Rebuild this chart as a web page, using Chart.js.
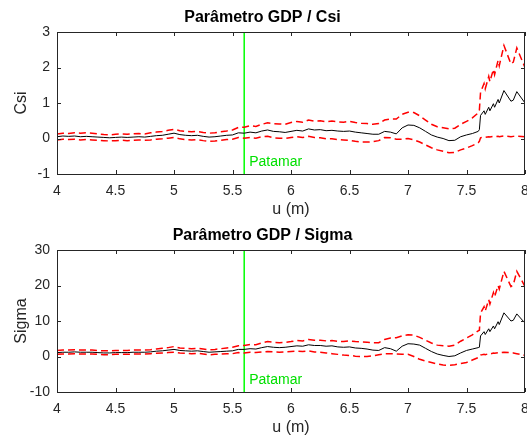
<!DOCTYPE html>
<html>
<head>
<meta charset="utf-8">
<script src="https://cdn.jsdelivr.net/npm/chart.js@4.4.1/dist/chart.umd.min.js"></script>
<style>
html,body{margin:0;padding:0;background:#fff;}
canvas{display:block;}
</style>
</head>
<body>
<canvas id="c1" width="527" height="218"></canvas>
<canvas id="c2" width="527" height="218"></canvas>
<script>
// x positions (u in m)
const uMain = [4.00,4.05,4.10,4.15,4.20,4.25,4.30,4.35,4.40,4.45,
  4.50,4.55,4.60,4.65,4.70,4.75,4.80,4.85,4.90,4.95,
  5.00,5.05,5.10,5.15,5.20,5.25,5.30,5.35,5.40,5.45,
  5.50,5.55,5.60,5.65,5.70,5.75,5.80,5.85,5.90,5.95,
  6.00,6.05,6.10,6.15,6.20,6.25,6.30,6.35,6.40,6.45,
  6.50,6.55,6.60,6.65,6.70,6.75,6.80,6.85,6.90,6.95,
  7.00,7.05,7.10,7.15,7.20,7.25,7.30,7.35,7.40,7.45,
  7.50,7.55,7.60];
const uTail = [7.61,7.62,7.65,7.66,7.69,7.70,7.73,7.74,7.77,7.78,7.82,7.88,7.90,7.93,8.00];
const uValues = uMain.concat(uTail);

// Csi (top)
const csiMean = [0.05,0.07,0.06,0.07,0.05,0.06,0.05,0.04,0.03,0.02,
  0.03,0.04,0.03,0.04,0.05,0.04,0.06,0.08,0.09,0.12,
  0.15,0.11,0.09,0.08,0.09,0.06,0.04,0.05,0.07,0.09,
  0.10,0.16,0.15,0.18,0.16,0.21,0.24,0.20,0.19,0.17,
  0.20,0.23,0.21,0.27,0.24,0.25,0.22,0.23,0.21,0.20,
  0.21,0.18,0.16,0.14,0.12,0.12,0.20,0.18,0.13,0.30,
  0.38,0.37,0.30,0.20,0.10,0.04,0.00,-0.06,-0.05,0.05,
  0.10,0.14,0.20,
  0.25,0.65,0.78,0.68,0.88,0.78,0.98,0.88,1.10,1.00,1.35,1.05,1.08,1.32,1.00];
const csiUpper = [0.13,0.15,0.14,0.16,0.15,0.16,0.15,0.13,0.11,0.10,
  0.12,0.13,0.12,0.13,0.14,0.13,0.16,0.18,0.20,0.23,
  0.26,0.22,0.20,0.19,0.20,0.17,0.15,0.16,0.19,0.21,
  0.24,0.31,0.32,0.36,0.34,0.40,0.44,0.42,0.41,0.40,
  0.45,0.48,0.46,0.52,0.49,0.50,0.47,0.49,0.47,0.46,
  0.48,0.45,0.43,0.42,0.40,0.42,0.52,0.55,0.55,0.68,
  0.74,0.73,0.64,0.52,0.40,0.33,0.30,0.27,0.29,0.40,
  0.48,0.58,0.72,
  0.80,1.30,1.55,1.40,1.75,1.60,1.95,1.80,2.20,2.05,2.62,2.10,2.15,2.55,2.00];
const csiLower = [-0.04,-0.02,-0.03,-0.02,-0.04,-0.03,-0.04,-0.05,-0.06,-0.07,
  -0.06,-0.05,-0.06,-0.05,-0.04,-0.05,-0.04,-0.02,-0.01,0.01,
  0.03,-0.01,-0.03,-0.04,-0.03,-0.06,-0.08,-0.07,-0.05,-0.03,
  -0.02,0.03,0.01,0.03,0.01,0.05,0.06,0.02,0.01,0.00,
  0.03,0.05,0.03,0.06,0.03,0.02,-0.01,-0.01,-0.03,-0.04,
  -0.05,-0.08,-0.10,-0.10,-0.09,-0.06,0.03,0.02,-0.02,-0.02,
  0.00,-0.04,-0.10,-0.18,-0.26,-0.32,-0.36,-0.40,-0.39,-0.32,
  -0.27,-0.20,-0.12,
  -0.08,0.02,0.04,0.03,0.05,0.04,0.06,0.05,0.06,0.05,0.07,0.05,0.06,0.07,0.05];

// Sigma (bottom)
const sigmaMean = [1.1,1.2,1.2,1.3,1.2,1.2,1.2,1.1,1.0,1.0,
  1.1,1.1,1.1,1.2,1.2,1.2,1.3,1.5,1.6,1.8,
  2.0,1.7,1.6,1.5,1.6,1.4,1.2,1.3,1.4,1.5,
  1.6,2.0,2.0,2.2,2.1,2.5,2.8,2.6,2.5,2.6,
  2.8,3.0,2.9,3.3,3.1,3.1,2.9,3.0,2.7,2.6,
  2.7,2.4,2.3,2.1,1.8,1.7,2.5,2.2,1.5,2.9,
  3.6,3.5,3.2,2.3,1.4,0.7,0.3,0.0,0.2,1.0,
  1.7,2.1,2.5,
  2.6,5.8,7.0,6.2,7.8,7.0,8.6,7.8,9.8,9.0,12.3,10.0,10.2,12.0,9.4];
const sigmaUpper = [1.7,1.8,1.8,1.9,1.8,1.8,1.8,1.7,1.6,1.6,
  1.7,1.7,1.7,1.8,1.8,1.8,1.9,2.1,2.3,2.5,
  2.8,2.4,2.3,2.2,2.3,2.1,1.9,2.0,2.2,2.4,
  2.6,3.0,3.1,3.4,3.3,3.8,4.2,4.0,3.9,4.0,
  4.2,4.5,4.4,4.8,4.6,4.6,4.4,4.5,4.3,4.2,
  4.4,4.2,4.1,4.0,3.9,3.9,4.8,5.2,5.3,5.8,
  6.1,6.0,5.4,4.6,3.8,3.2,3.0,2.9,3.2,4.3,
  5.2,6.1,7.2,
  7.4,12.2,14.0,12.8,16.0,14.8,18.0,16.8,20.0,19.0,24.0,19.7,20.2,24.0,19.7];
const sigmaLower = [0.6,0.7,0.7,0.8,0.7,0.7,0.7,0.6,0.5,0.5,
  0.6,0.6,0.6,0.7,0.7,0.7,0.8,0.9,1.0,1.1,
  1.2,1.0,0.9,0.8,0.9,0.7,0.5,0.6,0.7,0.8,
  0.8,1.1,1.0,1.2,1.1,1.3,1.4,1.3,1.2,1.3,
  1.4,1.5,1.4,1.6,1.3,1.2,1.0,0.8,0.6,0.4,
  0.3,0.1,0.0,0.0,0.2,0.5,0.8,0.8,0.7,0.6,
  0.6,0.0,-0.8,-1.3,-1.7,-2.1,-2.4,-2.5,-2.3,-2.0,
  -1.7,-1.0,-0.3,
  -0.2,0.4,0.6,0.5,0.8,0.7,1.0,0.9,1.1,1.0,1.2,1.1,1.0,0.8,0.3];

const patamarU = 5.6;
const patamarLabel = 'Patamar';
const xTicks = [4,4.5,5,5.5,6,6.5,7,7.5,8];
const csiTicks = [-1,0,1,2,3];
const sigmaTicks = [-10,0,10,20,30];

const FONT = '"Liberation Sans", Arial, Helvetica, sans-serif';
const AXC = '#262626';

function pts(ys){ return uValues.map((u,i)=>({x:u,y:ys[i]})); }

const boxPlugin = {
  id:'boxTicks',
  afterDraw(chart){
    const {ctx, chartArea:a, scales} = chart;
    const xs = scales.x, ys = scales.y;
    ctx.save();
    ctx.strokeStyle = AXC;
    ctx.lineWidth = 1;
    ctx.beginPath();
    ctx.rect(Math.round(a.left)+0.5, Math.round(a.top)+0.5, Math.round(a.right-a.left)-1, Math.round(a.bottom-a.top));
    ctx.stroke();
    const L = 4;
    ctx.beginPath();
    chart.options.plugins.boxTicks.xt.forEach(v=>{
      const px = Math.round(xs.getPixelForValue(v))+0.5;
      ctx.moveTo(px,a.top); ctx.lineTo(px,a.top+L);
      ctx.moveTo(px,a.bottom); ctx.lineTo(px,a.bottom-L);
    });
    chart.options.plugins.boxTicks.yt.forEach(v=>{
      const py = Math.round(ys.getPixelForValue(v))+0.5;
      ctx.moveTo(a.left,py); ctx.lineTo(a.left+L,py);
      ctx.moveTo(a.right,py); ctx.lineTo(a.right-L,py);
    });
    ctx.stroke();
    // label of the vertical line
    ctx.fillStyle = '#00e000';
    ctx.font = '14px ' + FONT;
    ctx.textAlign = 'left';
    ctx.textBaseline = 'middle';
    ctx.fillText(patamarLabel, xs.getPixelForValue(patamarU)+5, a.bottom-12);
    ctx.restore();
  }
};

function makeChart(id, title, yTitle, mean, upper, lower, yTicks){
  const ymin = yTicks[0], ymax = yTicks[yTicks.length-1];
  return new Chart(document.getElementById(id), {
    type:'scatter',
    data:{datasets:[
      {data:pts(upper), showLine:true, borderColor:'#ff0000', borderWidth:1.5, borderDash:[7,4], pointRadius:0, tension:0},
      {data:pts(lower), showLine:true, borderColor:'#ff0000', borderWidth:1.5, borderDash:[7,4], pointRadius:0, tension:0},
      {data:pts(mean), showLine:true, borderColor:'#000000', borderWidth:1, pointRadius:0, tension:0},
      {data:[{x:patamarU,y:ymin},{x:patamarU,y:ymax}], showLine:true, borderColor:'#00ff00', borderWidth:1.5, pointRadius:0}
    ]},
    options:{
      responsive:false, animation:false, events:[],
      layout:{padding:{left:0,right:2,top:0,bottom:0}},
      plugins:{
        legend:{display:false}, tooltip:{enabled:false},
        title:{display:true, text:title, color:'#000', font:{family:FONT,size:16,weight:'bold',lineHeight:1.2}, padding:{top:7.5,bottom:5.3}},
        boxTicks:{xt:xTicks, yt:yTicks}
      },
      scales:{
        x:{type:'linear', min:4, max:8,
          afterBuildTicks(s){ s.ticks = xTicks.map(v=>({value:v})); },
          afterFit(s){ s.height = 44; s.paddingLeft = 0; s.paddingRight = 0; },
          grid:{display:false, drawTicks:false}, border:{display:false},
          ticks:{color:AXC, font:{family:FONT,size:14}, padding:9, maxRotation:0, autoSkip:false, callback:v=>String(v)},
          title:{display:true, text:'u (m)', color:AXC, font:{family:FONT,size:16,lineHeight:1}, padding:{top:0,bottom:0}}
        },
        y:{type:'linear', min:ymin, max:ymax,
          afterBuildTicks(s){ s.ticks = yTicks.map(v=>({value:v})); },
          afterFit(s){ s.width = 57; s.paddingTop = 0; s.paddingBottom = 0; },
          grid:{display:false, drawTicks:false}, border:{display:false},
          ticks:{color:AXC, font:{family:FONT,size:14}, padding:7, autoSkip:false, callback:v=>String(v)},
          title:{display:true, text:yTitle, color:AXC, font:{family:FONT,size:16,lineHeight:1}, padding:{top:14,bottom:0}}
        }
      }
    },
    plugins:[boxPlugin]
  });
}

makeChart('c1','Parâmetro GDP / Csi','Csi',csiMean,csiUpper,csiLower,csiTicks);
makeChart('c2','Parâmetro GDP / Sigma','Sigma',sigmaMean,sigmaUpper,sigmaLower,sigmaTicks);
</script>
</body>
</html>
